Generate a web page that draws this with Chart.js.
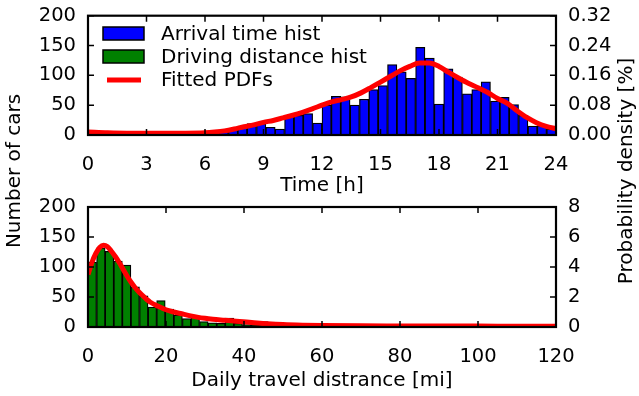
<!DOCTYPE html>
<html><head><meta charset="utf-8">
<script src="https://cdn.jsdelivr.net/npm/chart.js@4.4.1/dist/chart.umd.min.js"></script>
<style>
html,body{margin:0;padding:0;background:#fff;}
#wrap{position:relative;width:639px;height:396px;overflow:hidden;background:#fff;}
canvas{position:absolute;left:0;top:0;}
</style></head><body>
<div id="wrap">
<canvas id="c1" width="639" height="396"></canvas>
<canvas id="c2" width="639" height="396"></canvas>
</div>
<script>
// ---------- DATA ----------
const arrivalBins = [0.24,0.72,1.20,1.68,2.16,2.64,3.12,3.60,4.08,4.56,5.04,5.52,6.00,6.48,6.96,7.44,7.92,8.40,8.88,9.36,9.84,10.32,10.80,11.28,11.76,12.24,12.72,13.20,13.68,14.16,14.64,15.12,15.60,16.08,16.56,17.04,17.52,18.00,18.48,18.96,19.44,19.92,20.40,20.88,21.36,21.84,22.32,22.80,23.28,23.76];
const arrivalCounts = [6,4,3,2,2,3,2,2,3,2,3,2,4,5,6,9,15,19,19,13,10,32,33,36,20,50,65,64,50,60,76,83,118,106,95,147,129,52,111,97,69,76,89,57,63,51,33,15,16,10];
const pdfTimeX = [0,1,2,3,4,5,6,6.5,7,7.5,8,8.5,9,9.5,10,10.5,11,11.5,12,12.5,13,13.5,14,14.5,15,15.5,16,16.5,17,17.5,18,18.5,19,19.5,20,20.5,21,21.5,22,22.5,23,23.5,24];
const pdfTimeY = [0.008,0.006,0.005,0.005,0.005,0.005,0.006,0.008,0.011,0.016,0.022,0.027,0.034,0.039,0.046,0.053,0.061,0.070,0.080,0.089,0.095,0.102,0.113,0.127,0.142,0.157,0.172,0.184,0.193,0.193,0.184,0.168,0.153,0.139,0.127,0.114,0.098,0.085,0.065,0.047,0.033,0.023,0.017];

const distBins = [1.1,3.3,5.5,7.7,9.9,12.1,14.3,16.5,18.7,20.9,23.1,25.3,27.5,29.7,31.9,34.1,36.3,38.5,40.7,42.9,45.1,47.3,49.5,51.7,53.9,56.1,58.3,60.5,62.7,64.9,67.1,69.3,71.5,73.7,75.9,78.1,80.3,82.5,84.7,86.9,89.1,91.3,93.5,95.7,97.9,100.1,102.3,104.5,106.7,108.9];
const distCounts = [108,132,126,110,103,67,52,33,44,30,20,14,17,9,7,6,15,6,4,3,9,3,2,2,1,1,1,1,1,0,3,1,0,1,0,1,0,0,2,0,1,0,0,0,1,0,0,0,0,1];
const pdfDistX = [0,1,2,3,4,5,6,7,8,9,10,11,12,13,14,15,16,18,20,22,24,26,28,30,32,35,38,42,46,50,55,60,70,80,90,100,110,120];
const pdfDistY = [3.5,4.3,4.9,5.3,5.45,5.35,5.05,4.7,4.3,3.85,3.4,3.0,2.65,2.35,2.1,1.85,1.65,1.38,1.15,1.0,0.88,0.76,0.66,0.58,0.52,0.45,0.38,0.3,0.22,0.16,0.12,0.1,0.08,0.07,0.06,0.06,0.05,0.05];

const timeTicks = [0,3,6,9,12,15,18,21,24];
const carTicks = [0,50,100,150,200];
const densTimeTicks = [0,0.08,0.16,0.24,0.32];
const distTicks = [0,20,40,60,80,100,120];
const densDistTicks = [0,2,4,6,8];

const legendLabels = ['Arrival time hist','Driving distance hist','Fitted PDFs'];
const xTitleTop = 'Time [h]';
const xTitleBottom = 'Daily travel distrance [mi]';
const yTitleLeft = 'Number of cars';
const yTitleRight = 'Probability density [%]';

// ---------- STYLE ----------
const FONT = '"DejaVu Sans", sans-serif';
const BLUE = '#0000ff', GREEN = '#008000', RED = '#ff0000';
const TICK_FONT = {family: FONT, size: 19.5};
const TITLE_FONT = {family: FONT, size: 20};

function fixedTicks(arr){ return function(scale){ scale.ticks = arr.map(v => ({value: v})); }; }

const framePlugin = {
  id: 'frame',
  afterDatasetsDraw(chart){
    const {ctx, chartArea: a, scales} = chart;
    const right = scales.y1 || scales.y2;
    ctx.save();
    ctx.strokeStyle = '#000';
    ctx.lineWidth = 1.5;
    const L = 6;
    ctx.beginPath();
    scales.x.ticks.forEach(t => {
      const px = scales.x.getPixelForValue(t.value);
      ctx.moveTo(px, a.bottom); ctx.lineTo(px, a.bottom - L);
      ctx.moveTo(px, a.top); ctx.lineTo(px, a.top + L);
    });
    scales.y.ticks.forEach(t => {
      const py = scales.y.getPixelForValue(t.value);
      ctx.moveTo(a.left, py); ctx.lineTo(a.left + L, py);
    });
    right.ticks.forEach(t => {
      const py = right.getPixelForValue(t.value);
      ctx.moveTo(a.right, py); ctx.lineTo(a.right - L, py);
    });
    ctx.stroke();
    ctx.lineWidth = 2.2;
    ctx.strokeRect(a.left, a.top, a.right - a.left, a.bottom - a.top);
    ctx.restore();
  }
};

const legendPlugin = {
  id: 'customLegend',
  afterDraw(chart){
    const ctx = chart.ctx;
    ctx.save();
    ctx.font = '20px ' + FONT;
    ctx.fillStyle = '#000';
    ctx.textBaseline = 'middle';
    ctx.textAlign = 'left';
    const x0 = 103, w = 41, h = 13;
    const rows = [33.5, 56.5, 80];
    ctx.lineWidth = 1.5; ctx.strokeStyle = '#000';
    ctx.fillStyle = BLUE; ctx.fillRect(x0, rows[0]-h/2, w, h); ctx.strokeRect(x0, rows[0]-h/2, w, h);
    ctx.fillStyle = GREEN; ctx.fillRect(x0, rows[1]-h/2, w, h); ctx.strokeRect(x0, rows[1]-h/2, w, h);
    ctx.strokeStyle = RED; ctx.lineWidth = 5;
    ctx.beginPath(); ctx.moveTo(107, rows[2]); ctx.lineTo(141, rows[2]); ctx.stroke();
    ctx.fillStyle = '#000';
    legendLabels.forEach((t, i) => ctx.fillText(t, 161, rows[i] + 1));
    // figure-level y labels
    ctx.font = '20px ' + FONT;
    ctx.textAlign = 'center';
    ctx.save(); ctx.translate(15, 171); ctx.rotate(-Math.PI/2); ctx.fillText(yTitleLeft, 0, 0); ctx.restore();
    ctx.save(); ctx.translate(627, 171); ctx.rotate(-Math.PI/2); ctx.fillText(yTitleRight, 0, 0); ctx.restore();
    ctx.restore();
  }
};

function makeChart(id, cfg){
  return new Chart(document.getElementById(id), {
    type: 'bar',
    data: {datasets: [
      {type: 'line', data: cfg.lx.map((x, i) => ({x, y: cfg.ly[i]})), borderColor: RED, borderWidth: 5,
       pointRadius: 0, cubicInterpolationMode: 'monotone', yAxisID: cfg.rightId, xAxisID: 'x', order: 0, fill: false},
      {type: 'bar', data: cfg.bx.map((x, i) => ({x, y: cfg.by[i]})), backgroundColor: cfg.color, borderColor: '#000',
       borderWidth: 1.25, barPercentage: 1, categoryPercentage: 1, yAxisID: 'y', xAxisID: 'x', order: 1}
    ]},
    options: {
      responsive: false, animation: false, devicePixelRatio: 1,
      layout: {padding: {left: 0, right: 0, top: cfg.padTop, bottom: cfg.padBottom}},
      plugins: {legend: {display: false}, tooltip: {enabled: false}},
      events: [],
      scales: {
        x: {type: 'linear', position: 'bottom', min: cfg.xmin, max: cfg.xmax, offset: false,
            afterBuildTicks: fixedTicks(cfg.xticks),
            grid: {display: false, offset: false}, border: {display: false},
            ticks: {font: TICK_FONT, color: '#000', padding: 10, maxRotation: 0, autoSkip: false},
            title: {display: true, text: cfg.xtitle, font: TITLE_FONT, color: '#000', padding: 0},
            afterFit(s){ s.height = cfg.xh; }},
        y: {type: 'linear', position: 'left', min: 0, max: 200,
            afterBuildTicks: fixedTicks(carTicks),
            grid: {display: false}, border: {display: false},
            ticks: {font: TICK_FONT, color: '#000', padding: 4},
            afterFit(s){ s.width = 88; }},
        [cfg.rightId]: {type: 'linear', position: 'right', min: 0, max: cfg.rmax,
            afterBuildTicks: fixedTicks(cfg.rticks),
            grid: {display: false}, border: {display: false},
            ticks: {font: TICK_FONT, color: '#000', padding: 4, callback: cfg.rfmt},
            afterFit(s){ s.width = 83; }}
      }
    },
    plugins: cfg.plugins
  });
}

makeChart('c1', {
  lx: pdfTimeX, ly: pdfTimeY, bx: arrivalBins, by: arrivalCounts, color: BLUE,
  rightId: 'y1', rmax: 0.32, rticks: densTimeTicks, rfmt: v => Number(v).toFixed(2),
  xmin: 0, xmax: 24, xticks: timeTicks, xtitle: xTitleTop,
  padTop: 15, padBottom: 198, xh: 63,
  plugins: [framePlugin, legendPlugin]
});
makeChart('c2', {
  lx: pdfDistX, ly: pdfDistY, bx: distBins, by: distCounts, color: GREEN,
  rightId: 'y2', rmax: 8, rticks: densDistTicks, rfmt: v => String(v),
  xmin: 0, xmax: 120, xticks: distTicks, xtitle: xTitleBottom,
  padTop: 207, padBottom: 3, xh: 66,
  plugins: [framePlugin]
});
</script>
</body></html>
